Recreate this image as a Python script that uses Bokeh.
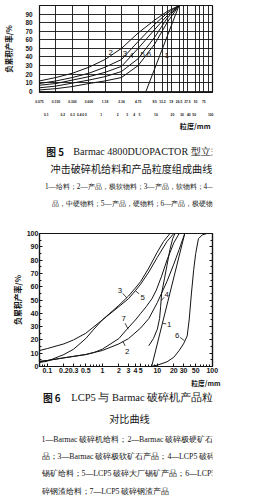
from bokeh.plotting import figure
from bokeh.models import FixedTicker, LogAxis, LinearAxis, Range1d, Title, CustomLabelingPolicy
from bokeh.layouts import column
from bokeh.core.properties import value
from bokeh.embed import file_html
from bokeh.resources import INLINE

# ---------------- Fig. 5 data ----------------
f5_grid_ticks = [0.075, 0.15, 0.3, 0.6, 1.18, 2.36, 4.75, 9.5, 13.2, 16, 19, 26.5, 31.5, 37.5, 53, 63, 75, 90]
f5_sieve_ticks = [0.075, 0.15, 0.3, 0.6, 1.18, 2.36, 4.75, 9.5, 13.2, 19, 26.5, 37.5, 53, 75]
f5_sieve_labels = ["0.075", "0.150", "0.300", "0.600", "1.18", "2.36", "4.75", "9.5", "13.2", "19",
                   "26.5", "37.5", "53", "75"]
f5_mm_ticks = [0.1, 0.2, 0.3, 0.4, 0.5, 1, 2, 3, 4, 5, 10, 20, 30, 40, 50, 100]
f5_mm_labels = ["0.1", "0.2", "0.3", "0.4", "0.5", "1", "2", "3", "4", "5", "10", "20", "30", "40", "50", "100"]
f5_y_ticks = [0, 10, 20, 30, 40, 50, 60, 70, 80, 90]

f5_feed_x = [6.6, 26.5]
f5_feed = [0, 100]
f5_x = [0.075, 0.15, 0.3, 0.6, 1.18, 2.36, 4.75, 9.5, 16, 26.5]
f5_c2 = [12, 16, 21, 28, 37, 50, 68, 83, 93, 100]
f5_c3 = [9, 12, 16, 21, 28, 37, 58, 78, 91, 100]
f5_c4 = [7, 9, 13, 17, 22, 29, 50, 72, 88, 100]
f5_c5 = [4, 6, 9.5, 13, 17, 23, 38, 63, 85, 100]
f5_c6 = [1.5, 3, 5.5, 9, 12, 16, 30, 55, 80, 100]
f5_names = ["1", "2", "3", "4", "5", "6"]
f5_name_x = [15.8, 1.5, 2.73, 3.57, 5.74, 7.5]
f5_name_y = [42, 45.5, 44, 42, 43, 43]

# ---------------- Fig. 6 data ----------------
f6_x_ticks = [0.1, 0.2, 0.3, 0.5, 1, 2, 3, 4, 5, 10, 20, 30, 50, 100]
f6_x_labels = ["0.1", "0.2", "0.3", "0.5", "1", "2", "3", "4", "5", "10", "20", "30", "50", "100"]
f6_x_minor = [0.08, 0.09, 0.4, 0.6, 0.7, 0.8, 0.9, 6, 7, 8, 9, 40, 60, 70, 80, 90]
f6_y_ticks = [0, 10, 20, 30, 40, 50, 60, 70, 80, 90, 100]
f6_y_minor = [5, 15, 25, 35, 45, 55, 65, 75, 85, 95]

f6_c1_x = [7.9, 31.6]
f6_c1 = [0, 100]
f6_c2_x = [0.072, 0.1, 0.2, 0.5, 0.7, 1, 2, 3, 5, 7, 10, 15, 20, 25, 31.6]
f6_c2 = [3.5, 4.5, 6.5, 9, 10.5, 12, 17, 21, 29, 36, 48, 64, 77, 88, 100]
f6_c3_x = [0.072, 0.1, 0.2, 0.3, 0.5, 1, 2, 3, 4, 5, 7, 10, 13, 17]
f6_c3 = [12, 13.5, 17, 20, 25, 35, 46, 53, 59, 64, 74, 86, 94, 100]
f6_c4_x = [7, 8.5, 10, 11, 11.5, 12, 13.5, 15, 17, 19, 21]
f6_c4 = [15.6, 21, 28, 36, 45, 55, 66, 76, 88, 96, 100]
f6_c5_x = [0.072, 0.1, 0.2, 0.3, 0.5, 0.7, 1, 2, 3, 4, 5, 7, 10, 15, 20]
f6_c5 = [3, 4, 9, 13, 21, 28, 35, 45, 51, 57, 62, 71, 82, 94, 100]
f6_c6_x = [7.6, 10, 15, 20, 25, 30, 35, 38, 42, 46, 50, 56, 66, 80, 100]
f6_c6 = [0, 1, 3.5, 7, 12, 17, 23, 35, 56, 73, 85, 96, 99, 100, 100]
f6_c7_x = [0.072, 0.1, 0.2, 0.5, 0.7, 1, 2, 2.8, 4, 5, 6.3, 8, 9.5, 12, 15, 20, 25]
f6_c7 = [4, 4.5, 6.5, 9, 10.5, 13, 21, 28, 35, 40, 45, 51, 57, 68, 80, 93, 100]
f6_names = ["1", "2", "3", "4", "5", "6", "7"]
f6_name_x = [16.5, 2.82, 2.1, 14.8, 5.4, 23.1, 2.45]
f6_name_y = [31.5, 11.5, 57, 54, 52, 23.2, 35.8]
f6_lead_x0 = [14.6, 2.6, 2.35, 13.3, 4.7, 26.0, 2.6]
f6_lead_y0 = [32, 15.5, 55, 52, 54.5, 21.9, 32.5]
f6_lead_x1 = [12.6, 2.37, 2.8, 11.8, 4.0, 31.0, 2.95]
f6_lead_y1 = [32.5, 18.9, 51.5, 49.6, 57, 19.5, 28]

# ---------------- captions ----------------
cap5_head = "图 5"
cap5_title1 = "Barmac 4800DUOPACTOR 型立式"
cap5_title2 = "冲击破碎机给料和产品粒度组成曲线"
cap5_notes = ["1—给料；2—产品，极软物料；3—产品，软物料；4—产",
              "品，中硬物料；5—产品，硬物料；6—产品，极硬物料"]
cap6_head = "图 6"
cap6_title1 = "LCP5 与 Barmac 破碎机产品粒度"
cap6_title2 = "对比曲线"
cap6_notes = ["1—Barmac 破碎机给料；2—Barmac 破碎极硬矿石产",
              "品；3—Barmac 破碎极软矿石产品；4—LCP5 破碎大厂",
              "锡矿给料；5—LCP5 破碎大厂锡矿产品；6—LCP5 破",
              "碎钢渣给料；7—LCP5 破碎钢渣产品"]
y_title = "负累积产率/%"
x_title = "粒度/mm"

W = 256
CJK = "Noto Sans CJK SC"
SANS = "Liberation Sans"
SERIF = "Liberation Serif"
INK = "#141414"
K = 0.75  # text renders about 4/3 larger than the nominal size here


def fs(px):
    return f"{px * K:.2f}px"


def caption_panel(h):
    p = figure(width=W, height=h, x_range=Range1d(0, W), y_range=Range1d(h, 0),
               x_axis_type=None, y_axis_type=None, output_backend="svg", title=None,
               toolbar_location=None, min_border_left=0, min_border_right=0,
               min_border_top=0, min_border_bottom=0)
    p.grid.visible = False
    p.outline_line_color = None
    return p


def put(p, x, y, s, size, font=SERIF, style="normal", align="left"):
    p.text(x=[x], y=[y], text=[s], text_font=value(font), text_font_size=value(fs(size)),
           text_font_style=style, text_align=align, text_baseline="middle", text_color=INK)


# ================= Fig. 5 =================
H1 = 131
p1 = figure(width=W, height=H1, x_axis_type="log", x_range=Range1d(0.075, 108), title=None,
            y_range=Range1d(-1.5, 100), output_backend="svg", toolbar_location=None,
            min_border_left=33, min_border_right=44, min_border_top=5, min_border_bottom=25)
p1.outline_line_color = INK
p1.outline_line_width = 1.2

xa = p1.xaxis[0]
xa.ticker = FixedTicker(ticks=f5_sieve_ticks)
xa.major_label_overrides = dict(zip(f5_sieve_ticks, f5_sieve_labels))
xa2 = LogAxis(ticker=FixedTicker(ticks=f5_mm_ticks),
              major_label_overrides=dict(zip(f5_mm_ticks, f5_mm_labels)))
p1.add_layout(xa2, "below")
for ax in (xa, xa2):
    ax.axis_line_color = None
    ax.major_tick_line_color = None
    ax.minor_tick_line_color = None
    ax.major_label_standoff = 1
    ax.major_label_text_font = SANS
    ax.major_label_text_font_style = "bold"
    ax.major_label_text_font_size = fs(4.4)
    ax.major_label_text_color = INK
p1.xgrid.ticker = FixedTicker(ticks=f5_grid_ticks)

ya = p1.yaxis[0]
ya.ticker = FixedTicker(ticks=f5_y_ticks)
ya.axis_line_color = None
ya.major_tick_line_color = None
ya.minor_tick_line_color = None
ya.major_label_standoff = 1
ya.major_label_text_font = SANS
ya.major_label_text_font_style = "bold"
ya.major_label_text_font_size = fs(8.5)
ya.major_label_text_color = INK
ya.axis_label = y_title
ya.axis_label_text_font = CJK
ya.axis_label_text_font_style = "bold"
ya.axis_label_text_font_size = fs(10)
ya.axis_label_standoff = 8
ya.axis_label_text_color = INK

for g in (p1.xgrid[0], p1.ygrid[0]):
    g.grid_line_color = INK
    g.grid_line_width = 0.9
    g.grid_line_alpha = 1.0

p1.add_layout(Title(text=x_title, align="right", text_font=CJK, text_font_size=fs(9.5),
                    text_font_style="bold", text_color=INK, standoff=1, offset=2), "below")

p1.line(f5_feed_x, f5_feed, line_color=INK, line_width=1)
for ys in (f5_c2, f5_c3, f5_c4, f5_c5, f5_c6):
    p1.line(f5_x, ys, line_color=INK, line_width=1)
p1.text(x=f5_name_x, y=f5_name_y, text=f5_names, text_font=value(SANS), text_font_size=value(fs(10.5)),
        text_align="center", text_baseline="middle", text_color=INK)

# ================= caption 5 =================
c1 = caption_panel(94)
put(c1, 10, 20, cap5_head, 13, font=CJK, style="bold")
put(c1, 50, 20, cap5_title1, 13.5)
put(c1, 136, 37, cap5_title2, 13.5, font=CJK, align="center")
put(c1, 8, 55, cap5_notes[0], 9.7)
put(c1, 18, 72, cap5_notes[1], 9.7)

# ================= Fig. 6 =================
H2 = 163
p2 = figure(width=W, height=H2, x_axis_type="log", x_range=Range1d(0.072, 101), title=None,
            y_range=Range1d(0, 100), output_backend="svg", toolbar_location=None,
            min_border_left=31, min_border_right=15, min_border_top=8, min_border_bottom=22)
p2.grid.visible = False
p2.outline_line_color = INK
p2.outline_line_width = 1.2

xb = p2.xaxis[0]
xb.ticker = FixedTicker(ticks=f6_x_ticks, minor_ticks=f6_x_minor)
xb.major_label_overrides = dict(zip(f6_x_ticks, f6_x_labels))
yb = p2.yaxis[0]
yb.ticker = FixedTicker(ticks=f6_y_ticks, minor_ticks=f6_y_minor)
yr = LinearAxis(ticker=FixedTicker(ticks=f6_y_ticks, minor_ticks=f6_y_minor),
                major_label_policy=CustomLabelingPolicy(
                    code="for (const i of [...indices]) indices.unset(i); return indices"))
p2.add_layout(yr, "right")
for ax in (xb, yb, yr):
    ax.axis_line_color = INK
    ax.axis_line_width = 1.2
    ax.major_tick_in = 3
    ax.major_tick_out = 0
    ax.minor_tick_in = 2
    ax.minor_tick_out = 0
    ax.major_tick_line_color = INK
    ax.minor_tick_line_color = INK
    ax.major_label_standoff = 1
    ax.major_label_text_font = SANS
    ax.major_label_text_font_style = "bold"
    ax.major_label_text_color = INK
xb.major_label_text_font_size = fs(9.3)
yb.major_label_text_font_size = fs(9.5)
yb.axis_label = y_title
yb.axis_label_text_font = CJK
yb.axis_label_text_font_style = "bold"
yb.axis_label_text_font_size = fs(10.5)
yb.axis_label_standoff = 1
yb.axis_label_text_color = INK

p2.add_layout(Title(text=x_title, align="right", text_font=CJK, text_font_size=fs(9),
                    text_font_style="bold", text_color=INK, standoff=0, offset=-8), "below")

for xs, ys in ((f6_c1_x, f6_c1), (f6_c2_x, f6_c2), (f6_c3_x, f6_c3), (f6_c4_x, f6_c4),
               (f6_c5_x, f6_c5), (f6_c6_x, f6_c6), (f6_c7_x, f6_c7)):
    p2.line(xs, ys, line_color=INK, line_width=1)
p2.segment(x0=f6_lead_x0, y0=f6_lead_y0, x1=f6_lead_x1, y1=f6_lead_y1, line_color=INK, line_width=0.8)
p2.text(x=f6_name_x, y=f6_name_y, text=f6_names, text_font=value(SANS), text_font_size=value(fs(10.5)),
        text_align="center", text_baseline="middle", text_color=INK)

# ================= caption 6 =================
c2 = caption_panel(113)
put(c2, 5, 9, cap6_head, 13, font=CJK, style="bold")
put(c2, 47, 9, cap6_title1, 14)
put(c2, 133, 30, cap6_title2, 13.5, font=CJK, align="center")
for i, yy in enumerate((51, 68, 84.5, 103)):
    put(c2, 3, yy, cap6_notes[i], 10.4)

layout = column(p1, c1, p2, c2, spacing=0)
open("out.html", "w").write(file_html(layout, INLINE))
